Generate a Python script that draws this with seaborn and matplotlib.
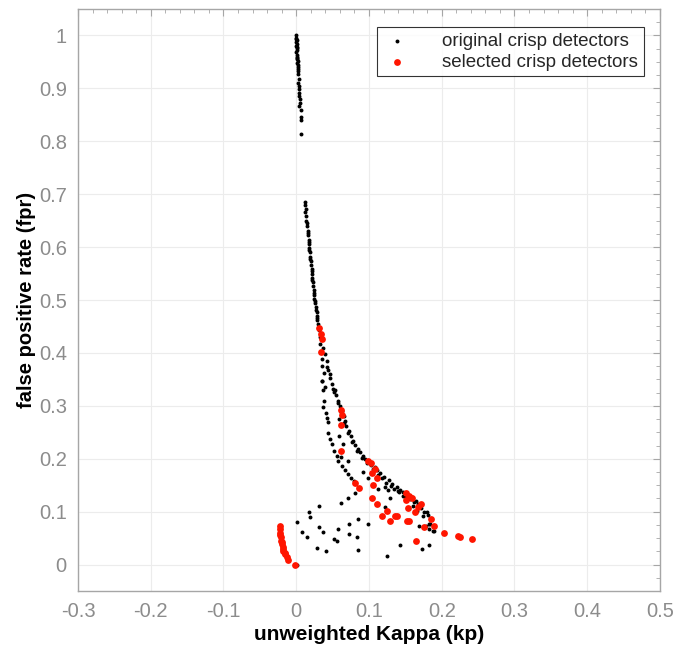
import matplotlib
matplotlib.use("Agg")
import matplotlib.pyplot as plt
from matplotlib.ticker import MultipleLocator
import seaborn as sns
import pandas as pd

# ---- original crisp detectors (kappa, fpr) ----
orig_kp = [
    # high-fpr column near kappa = 0
    0.000, 0.000, 0.001, 0.000, 0.001, 0.000, 0.001, 0.001, 0.000, 0.001,
    0.001, 0.001, 0.002, 0.001, 0.002, 0.002, 0.002, 0.000, 0.001, 0.001,
    0.003, 0.003, 0.004, 0.003, 0.004, 0.004, 0.004, 0.004, 0.005, 0.005,
    0.004, 0.006, 0.006, 0.006, 0.006,
    # upper part of the main curve
    0.012, 0.012, 0.012, 0.014, 0.014, 0.015, 0.016, 0.016, 0.017, 0.017,
    0.018, 0.019, 0.019, 0.020, 0.020, 0.021, 0.021, 0.022, 0.023, 0.023,
    0.024, 0.025, 0.025, 0.026, 0.027, 0.028, 0.028, 0.029, 0.030,
    0.013, 0.015, 0.016, 0.017, 0.018, 0.019, 0.021, 0.022, 0.024, 0.026,
    0.027, 0.029, 0.031, 0.032,
    0.033, 0.037, 0.040, 0.042, 0.042, 0.044, 0.046, 0.047, 0.049, 0.051,
    # outer branch
    0.053, 0.055, 0.058, 0.060, 0.0625, 0.065, 0.067, 0.069, 0.072, 0.075,
    0.078, 0.081, 0.085, 0.088, 0.092, 0.095, 0.099, 0.103, 0.108, 0.111,
    0.115, 0.121, 0.127, 0.132, 0.138, 0.143, 0.147, 0.153, 0.159, 0.164,
    0.168, 0.172, 0.175, 0.181, 0.184, 0.188,
    0.052, 0.057, 0.061, 0.066, 0.071, 0.076, 0.083, 0.090, 0.097, 0.105,
    0.113, 0.118, 0.124, 0.130, 0.135, 0.141, 0.150, 0.156, 0.162,
    # inner branch
    0.0349, 0.0371, 0.0386, 0.0371, 0.0404, 0.0418, 0.0441, 0.0432, 0.0464,
    0.0487, 0.0519, 0.0556, 0.0578, 0.0624, 0.067, 0.0707, 0.0748, 0.0794,
    0.035, 0.036, 0.0386, 0.036, 0.0395,
    # middle branch
    0.0592, 0.0588, 0.0638, 0.0615, 0.0707, 0.0922, 0.0982, 0.1128, 0.1289,
    0.122,
    # second row below the outer branch
    0.122, 0.1266, 0.1403, 0.1462, 0.1518, 0.160, 0.1655, 0.1738, 0.1802,
    # scattered low-fpr detectors
    0.0006, 0.0006, 0.0175, 0.0313, 0.0189, 0.0075, 0.0143, 0.0313, 0.0372,
    0.029, 0.0405, 0.0519, 0.0565, 0.058, 0.073, 0.073, 0.083, 0.0844, 0.0844,
    0.099, 0.1243, 0.1426, 0.1733, 0.1825, 0.169, 0.1778, 0.1829, 0.1829,
    0.1898, 0.0615, 0.0707, 0.0808,
]
orig_fpr = [
    1.000, 0.996, 0.992, 0.988, 0.984, 0.980, 0.976, 0.972, 0.968, 0.964,
    0.960, 0.956, 0.952, 0.948, 0.944, 0.940, 0.936, 0.994, 0.978, 0.958,
    0.932, 0.927, 0.918, 0.911, 0.905, 0.899, 0.892, 0.886, 0.880, 0.873,
    0.867, 0.859, 0.845, 0.840, 0.814,
    0.685, 0.680, 0.667, 0.659, 0.650, 0.640, 0.630, 0.622, 0.614, 0.606,
    0.598, 0.590, 0.582, 0.574, 0.566, 0.558, 0.550, 0.542, 0.534, 0.526,
    0.518, 0.510, 0.502, 0.494, 0.486, 0.478, 0.470, 0.462, 0.455,
    0.672, 0.645, 0.626, 0.610, 0.594, 0.578, 0.554, 0.538, 0.514, 0.498,
    0.482, 0.466, 0.444, 0.430,
    0.417, 0.410, 0.398, 0.385, 0.373, 0.367, 0.360, 0.352, 0.341, 0.332,
    0.329, 0.320, 0.310, 0.300, 0.291, 0.281, 0.272, 0.262, 0.253, 0.243,
    0.234, 0.226, 0.219, 0.212, 0.206, 0.200, 0.195, 0.189, 0.184, 0.179,
    0.174, 0.166, 0.159, 0.152, 0.146, 0.141, 0.137, 0.132, 0.127, 0.121,
    0.115, 0.107, 0.099, 0.093, 0.077, 0.064,
    0.326, 0.305, 0.288, 0.268, 0.248, 0.231, 0.214, 0.202, 0.192, 0.181,
    0.169, 0.163, 0.155, 0.149, 0.143, 0.137, 0.130, 0.124, 0.118,
    0.3476, 0.329, 0.3086, 0.2985, 0.286, 0.277, 0.269, 0.248, 0.2375,
    0.228, 0.214, 0.206, 0.1965, 0.187, 0.179, 0.171, 0.1638, 0.157,
    0.389, 0.376, 0.363, 0.346, 0.335,
    0.275, 0.2437, 0.228, 0.2027, 0.1952, 0.1744, 0.163, 0.143, 0.126,
    0.1096,
    0.146, 0.140, 0.1385, 0.130, 0.124, 0.1115, 0.1019, 0.0926, 0.0988,
    0.000, 0.080, 0.099, 0.110, 0.089, 0.061, 0.0516, 0.0705, 0.061,
    0.0315, 0.025, 0.0485, 0.0453, 0.0674, 0.0768, 0.058, 0.0516, 0.0863,
    0.0283, 0.0768, 0.0157, 0.0378, 0.029, 0.0378, 0.0724, 0.0724, 0.0768,
    0.0667, 0.0642, 0.1159, 0.126, 0.1348,
]

# ---- selected crisp detectors (kappa, fpr) ----
sel_kp = [
    0.0313, 0.0336, 0.036, 0.0336,
    0.0615, 0.0624, 0.0615, 0.0615,
    0.0982, 0.1027, 0.1082, 0.1036, 0.1106, 0.1055, 0.0808, 0.0867,
    0.1036, 0.1106, 0.1243, 0.1174, 0.1289, 0.1357, 0.139, 0.1518, 0.155,
    0.1504, 0.155, 0.1586, 0.1504, 0.154, 0.1632, 0.1668, 0.1715, 0.1852,
    0.1898, 0.176, 0.2035, 0.2228, 0.2245, 0.2411, 0.1642,
    -0.0223, -0.0223, -0.0220, -0.0218, -0.0214, -0.0210, -0.0200, -0.0196,
    -0.0186, -0.0180, -0.0177, -0.0160, -0.0155, -0.0131, -0.0108, -0.0017,
]
sel_fpr = [
    0.448, 0.436, 0.426, 0.401,
    0.292, 0.283, 0.264, 0.2154,
    0.1952, 0.1927, 0.1808, 0.1725, 0.1638, 0.1506, 0.1536, 0.1442,
    0.1253, 0.1147, 0.102, 0.0926, 0.0831, 0.0926, 0.0926, 0.0831, 0.0831,
    0.1354, 0.1304, 0.126, 0.1222, 0.1064, 0.0988, 0.1083, 0.1147, 0.0863,
    0.0737, 0.0705, 0.0598, 0.0548, 0.0516, 0.0485, 0.044,
    0.0737, 0.068, 0.060, 0.055, 0.0516, 0.0453, 0.042, 0.039,
    0.0327, 0.029, 0.0264, 0.022, 0.020, 0.0139, 0.0088, 0.000,
]

x_ticks = [-0.3, -0.2, -0.1, 0, 0.1, 0.2, 0.3, 0.4, 0.5]
x_tick_labels = ["-0.3", "-0.2", "-0.1", "0", "0.1", "0.2", "0.3", "0.4", "0.5"]
y_ticks = [0, 0.1, 0.2, 0.3, 0.4, 0.5, 0.6, 0.7, 0.8, 0.9, 1]
y_tick_labels = ["0", "0.1", "0.2", "0.3", "0.4", "0.5", "0.6", "0.7", "0.8", "0.9", "1"]

orig = pd.DataFrame({"kp": orig_kp, "fpr": orig_fpr})
sel = pd.DataFrame({"kp": sel_kp, "fpr": sel_fpr})

sns.set_theme(style="white")
plt.rcParams["font.family"] = ["Liberation Sans", "DejaVu Sans"]

fig = plt.figure(figsize=(6.95, 6.45), dpi=100)
ax = fig.add_axes([0.1122, 0.0837, 0.8374, 0.9023])

axis_grey = "#a6a6a6"
label_grey = "#8c8c8c"

ax.grid(True, color="#ececec", linewidth=0.8, zorder=0)
ax.set_axisbelow(True)

sns.scatterplot(data=orig, x="kp", y="fpr", ax=ax, color="black", s=8,
                linewidth=0, label="original crisp detectors", zorder=3)
sns.scatterplot(data=sel, x="kp", y="fpr", ax=ax, color="#ff1500", s=24,
                linewidth=0, label="selected crisp detectors", zorder=4)

ax.set_xlim(-0.3, 0.5)
ax.set_ylim(-0.05, 1.05)
ax.set_xticks(x_ticks)
ax.set_xticklabels(x_tick_labels)
ax.set_yticks(y_ticks)
ax.set_yticklabels(y_tick_labels)
ax.xaxis.set_minor_locator(MultipleLocator(0.02))
ax.yaxis.set_minor_locator(MultipleLocator(0.025))

for sp in ax.spines.values():
    sp.set_visible(True)
    sp.set_color(axis_grey)
    sp.set_linewidth(1.0)

ax.tick_params(which="both", direction="in", top=True, right=True,
               color=axis_grey, labelcolor=label_grey, labelsize=14.5)
ax.tick_params(which="major", length=5, width=0.8, pad=8)
ax.tick_params(which="minor", length=3, width=0.6)

ax.set_xlabel("unweighted Kappa (kp)", fontsize=15, fontweight="bold",
              color="black", labelpad=3)
ax.set_ylabel("false positive rate (fpr)", fontsize=14.5, fontweight="bold",
              color="black", labelpad=2)

leg = ax.legend(loc="upper right", bbox_to_anchor=(0.9725, 0.969),
                fontsize=13.5, frameon=True, fancybox=False,
                handletextpad=1.6, borderpad=0.3, labelspacing=0.2,
                markerscale=1.0, handlelength=1.6, borderaxespad=0)
leg.get_frame().set_edgecolor("black")
leg.get_frame().set_linewidth(0.8)

fig.savefig("out.png", dpi=100)
